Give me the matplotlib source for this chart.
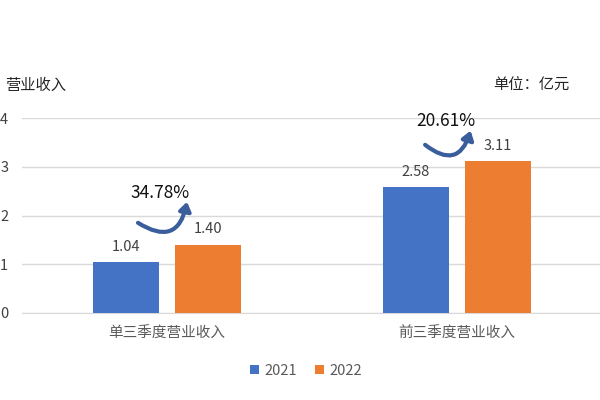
import matplotlib
matplotlib.use("Agg")
import matplotlib.pyplot as plt
from matplotlib.patches import FancyArrowPatch
import numpy as np

plt.rcParams['font.family'] = ['Noto Sans CJK SC', 'DejaVu Sans']

categories = ["单三季度营业收入", "前三季度营业收入"]
series_names = ["2021", "2022"]
values_2021 = [1.04, 2.58]
values_2022 = [1.40, 3.11]
growth = ["34.78%", "20.61%"]
yticks = [0, 1, 2, 3, 4]

blue = "#4472C4"
orange = "#ED7D31"
arrow_c = "#3A5E9C"
grid_c = "#D9D9D9"
txt_c = "#595959"

fig = plt.figure(figsize=(6, 4), dpi=100)
ax = fig.add_axes([22/600, 1-313/400, 580/600, 195/400])

x = np.arange(len(categories))
w = 0.228
off = 0.142
b1 = ax.bar(x - off, values_2021, w, color=blue, label=series_names[0], zorder=3)
b2 = ax.bar(x + off, values_2022, w, color=orange, label=series_names[1], zorder=3)

for xi, v in zip(x - off, values_2021):
    ax.text(xi, v + 0.17, f"{v:.2f}", ha="center", va="bottom", fontsize=10.5, color="#404040")
for xi, v in zip(x + off, values_2022):
    ax.text(xi, v + 0.17, f"{v:.2f}", ha="center", va="bottom", fontsize=10.5, color="#404040")

# growth labels and curved arrows (layout positions)
label_y = [2.46, 3.94]
label_dx = [-0.024, -0.038]
arr_start = [(-0.10, 1.85), (-0.11, 3.45)]
arr_end = [(0.069, 2.28), (0.047, 3.74)]
for i, g in enumerate(growth):
    ax.text(x[i] + label_dx[i], label_y[i], g, ha="center", va="center", fontsize=12.5, color="#111111")
    s = (x[i] + arr_start[i][0], arr_start[i][1])
    e = (x[i] + arr_end[i][0], arr_end[i][1])
    ar = FancyArrowPatch(s, e, connectionstyle="arc3,rad=0.72",
                         arrowstyle="-|>,head_length=5,head_width=3.5",
                         lw=3.0, color=arrow_c, zorder=4, shrinkA=0, shrinkB=0)
    ax.add_patch(ar)

ax.set_xlim(-0.5, 1.5)
ax.set_ylim(0, 4)
ax.set_yticks(yticks)
ax.set_yticklabels([str(t) for t in yticks], fontsize=10.5, color="#404040")
ax.tick_params(axis="y", length=0, pad=10)
ax.set_xticks(x)
ax.set_xticklabels(categories, fontsize=10.5, color=txt_c)
ax.tick_params(axis="x", length=0, pad=10)
ax.grid(axis="y", color=grid_c, lw=1, zorder=0)
for s in ["top", "right", "left"]:
    ax.spines[s].set_visible(False)
ax.spines["bottom"].set_color(grid_c)

fig.text(66/600, 1-85/400, "营业收入", ha="right", va="center", fontsize=11, color="#262626")
fig.text(493/600, 1-85/400, "单位：亿元", ha="left", va="center", fontsize=11, color="#262626")

leg = fig.legend(handles=[b1, b2], loc="center", bbox_to_anchor=(306/600, 1-371/400), ncol=2,
                 frameon=False, fontsize=10.5, handlelength=0.6, handleheight=0.6,
                 handletextpad=0.4, columnspacing=1.2)
for t in leg.get_texts():
    t.set_color(txt_c)

fig.savefig("out.png", dpi=100)
